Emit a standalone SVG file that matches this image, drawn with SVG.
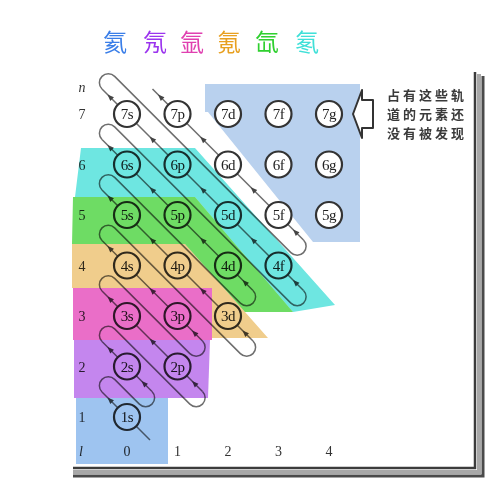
<svg xmlns="http://www.w3.org/2000/svg" width="488" height="480" viewBox="0 0 488 480">
<defs>
<style>
.loop{fill:none;stroke:#6e6e6e;stroke-width:1.5}
.arm{fill:none;stroke:#6e6e6e;stroke-width:1.5;marker-mid:url(#ah)}
.orb circle{fill:#fff;stroke:#333;stroke-width:2.2}
.orb text{font-family:"Liberation Serif",serif;font-size:15px;text-anchor:middle;fill:#222;letter-spacing:-0.5px}
.lbl{font-family:"Liberation Serif",serif;font-size:14px;text-anchor:middle;fill:#333}
.it{font-style:italic}
.rg{mix-blend-mode:multiply}
.ttl{font-family:"Noto Sans CJK SC",sans-serif;font-size:24px;text-anchor:middle}
.note{font-family:"Noto Sans CJK SC",sans-serif;font-size:13px;font-weight:700;fill:#3a3a3a;letter-spacing:3px}
</style>
<marker id="ah" viewBox="-4 -4 8 8" markerWidth="8" markerHeight="8" markerUnits="userSpaceOnUse" orient="auto">
<path d="M3.5,0 L-3,-2.6 L-3,2.6 Z" fill="#444"/>
</marker>
</defs>
<rect width="488" height="480" fill="#fff"/>

<g id="title">
<text class="ttl" x="115" y="51" fill="#3a7ee8">氦</text>
<text class="ttl" x="155" y="51" fill="#9b34ee">氖</text>
<text class="ttl" x="192" y="51" fill="#e040b0">氩</text>
<text class="ttl" x="229" y="51" fill="#e8a020">氪</text>
<text class="ttl" x="267" y="51" fill="#30d030">氙</text>
<text class="ttl" x="307" y="51" fill="#40e0d8">氡</text>
</g>

<g id="frame" fill="none">
<path d="M479,74 V472 H73" stroke="#a8a8a8" stroke-width="4"/>
<path d="M475,72 V468 H73" stroke="#3c3c3c" stroke-width="2.5"/>
<path d="M483,76 V476 H73" stroke="#4a4a4a" stroke-width="3"/>
</g>

<g id="undiscovered">
<polygon points="205,84 360,84 360,242 313,242 208,112 205,112" fill="#b9d1ee"/>
</g>

<g id="note">
<polygon points="353,114 362,90 362,100 373,100 373,128 362,128 362,138" fill="#fff" stroke="#333" stroke-width="2" stroke-linejoin="round"/>
<text class="note" x="387" y="100">占有这些轨</text>
<text class="note" x="387" y="119">道的元素还</text>
<text class="note" x="387" y="138">没有被发现</text>
</g>

<g id="connectors">
<path class="loop" d="M102,392 A8.93,8.93 0 0 1 114.63,379.37 L139.37,404.13 A8.93,8.93 0 0 0 152,391.5
M102,341.5 A8.93,8.93 0 0 1 114.63,328.87 L189.87,404.13 A8.93,8.93 0 0 0 202.5,391.5
M102,291 A8.93,8.93 0 0 1 114.63,278.37 L189.87,353.63 A8.93,8.93 0 0 0 202.5,341
M102,240.5 A8.93,8.93 0 0 1 114.63,227.87 L240.37,353.63 A8.93,8.93 0 0 0 253,341
M102,190 A8.93,8.93 0 0 1 114.63,177.37 L240.37,303.13 A8.93,8.93 0 0 0 253,290.5
M102,139.5 A8.93,8.93 0 0 1 114.63,126.87 L290.87,303.13 A8.93,8.93 0 0 0 303.5,290.5
M102,89 A8.93,8.93 0 0 1 114.63,76.37 L290.87,252.63 A8.93,8.93 0 0 0 303.5,240"/>
<polyline class="arm" points="150,440 110,400 102,392"/>
<polyline class="arm" points="152,391.5 144,383.5 110,349.5 102,341.5"/>
<polyline class="arm" points="202.5,391.5 194.5,383.5 152.25,341.25 110,299 102,291"/>
<polyline class="arm" points="202.5,341 194.5,333 152.25,290.75 110,248.5 102,240.5"/>
<polyline class="arm" points="253,341 245,333 202.75,290.75 152.25,240.25 110,198 102,190"/>
<polyline class="arm" points="253,290.5 245,282.5 202.75,240.25 152.25,189.75 110,147.5 102,139.5"/>
<polyline class="arm" points="303.5,290.5 295.5,282.5 253.25,240.25 202.75,189.75 152.25,139.25 110,97 102,89"/>
<polyline class="arm" points="303.5,240 295.5,232 253.25,189.75 202.75,139.25 160.5,97 152.5,89"/>
</g>

<g id="orbitals">
<g id="o7s" class="orb"><circle cx="127" cy="114" r="13"/><text x="127" y="119">7s</text></g>
<g id="o7p" class="orb"><circle cx="177.5" cy="114" r="13"/><text x="177.5" y="119">7p</text></g>
<g id="o7d" class="orb"><circle cx="228" cy="114" r="13"/><text x="228" y="119">7d</text></g>
<g id="o7f" class="orb"><circle cx="278.5" cy="114" r="13"/><text x="278.5" y="119">7f</text></g>
<g id="o7g" class="orb"><circle cx="329" cy="114" r="13"/><text x="329" y="119">7g</text></g>
<g id="o6s" class="orb"><circle cx="127" cy="164.5" r="13"/><text x="127" y="169.5">6s</text></g>
<g id="o6p" class="orb"><circle cx="177.5" cy="164.5" r="13"/><text x="177.5" y="169.5">6p</text></g>
<g id="o6d" class="orb"><circle cx="228" cy="164.5" r="13"/><text x="228" y="169.5">6d</text></g>
<g id="o6f" class="orb"><circle cx="278.5" cy="164.5" r="13"/><text x="278.5" y="169.5">6f</text></g>
<g id="o6g" class="orb"><circle cx="329" cy="164.5" r="13"/><text x="329" y="169.5">6g</text></g>
<g id="o5s" class="orb"><circle cx="127" cy="215" r="13"/><text x="127" y="220">5s</text></g>
<g id="o5p" class="orb"><circle cx="177.5" cy="215" r="13"/><text x="177.5" y="220">5p</text></g>
<g id="o5d" class="orb"><circle cx="228" cy="215" r="13"/><text x="228" y="220">5d</text></g>
<g id="o5f" class="orb"><circle cx="278.5" cy="215" r="13"/><text x="278.5" y="220">5f</text></g>
<g id="o5g" class="orb"><circle cx="329" cy="215" r="13"/><text x="329" y="220">5g</text></g>
<g id="o4s" class="orb"><circle cx="127" cy="265.5" r="13"/><text x="127" y="270.5">4s</text></g>
<g id="o4p" class="orb"><circle cx="177.5" cy="265.5" r="13"/><text x="177.5" y="270.5">4p</text></g>
<g id="o4d" class="orb"><circle cx="228" cy="265.5" r="13"/><text x="228" y="270.5">4d</text></g>
<g id="o4f" class="orb"><circle cx="278.5" cy="265.5" r="13"/><text x="278.5" y="270.5">4f</text></g>
<g id="o3s" class="orb"><circle cx="127" cy="316" r="13"/><text x="127" y="321">3s</text></g>
<g id="o3p" class="orb"><circle cx="177.5" cy="316" r="13"/><text x="177.5" y="321">3p</text></g>
<g id="o3d" class="orb"><circle cx="228" cy="316" r="13"/><text x="228" y="321">3d</text></g>
<g id="o2s" class="orb"><circle cx="127" cy="366.5" r="13"/><text x="127" y="371.5">2s</text></g>
<g id="o2p" class="orb"><circle cx="177.5" cy="366.5" r="13"/><text x="177.5" y="371.5">2p</text></g>
<g id="o1s" class="orb"><circle cx="127" cy="417" r="13"/><text x="127" y="422">1s</text></g>
</g>

<g id="axes">
<text class="lbl it" x="82" y="92">n</text>
<text class="lbl" x="82" y="119">7</text>
<text class="lbl" x="82" y="169.5">6</text>
<text class="lbl" x="82" y="220">5</text>
<text class="lbl" x="82" y="270.5">4</text>
<text class="lbl" x="82" y="321">3</text>
<text class="lbl" x="82" y="371.5">2</text>
<text class="lbl" x="82" y="422">1</text>
<text class="lbl it" x="81" y="456">l</text>
<text class="lbl" x="127" y="456">0</text>
<text class="lbl" x="177.5" y="456">1</text>
<text class="lbl" x="228" y="456">2</text>
<text class="lbl" x="278.5" y="456">3</text>
<text class="lbl" x="329" y="456">4</text>
</g>

<g id="regions">
<polygon class="rg" points="81,148 195,148 335,305 293,312 195,197 75,197" fill="#6ee6e1"/>
<polygon class="rg" points="73,197 195,197 293,312 245,312 185,244 72,244" fill="#6edc64"/>
<polygon class="rg" points="72,244 185,244 268,338 212,338 212,288 72,288" fill="#f0cd8c"/>
<polygon class="rg" points="73,288 212,288 212,340 73,340" fill="#ea6ec8"/>
<polygon class="rg" points="74,340 210,340 208,398 74,398" fill="#c486ee"/>
<polygon class="rg" points="76,398 168,398 168,464 76,464" fill="#9ec4f0"/>
</g>
</svg>
